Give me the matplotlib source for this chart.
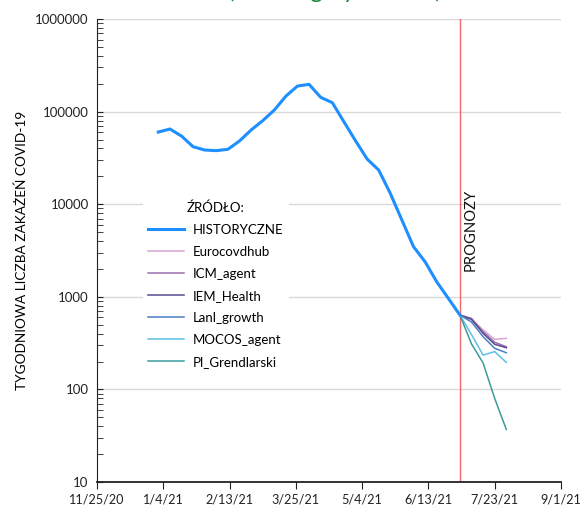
import matplotlib
matplotlib.use("Agg")
import matplotlib.pyplot as plt
import matplotlib.ticker as mticker
import matplotlib.dates as mdates
import pandas as pd
import numpy as np

plt.rcParams['font.family'] = ['Lato', 'DejaVu Sans']

# weekly case counts, Fridays from 1 Jan 2021
hist_start = '2021-01-01'
historyczne = [60200, 64900, 54500, 41800, 38500, 37900, 39200, 48200, 63300,
               79800, 104000, 147000, 189000, 197000, 142600, 125000, 77800,
               48500, 30800, 23400, 13100, 6740, 3480, 2390, 1455, 964, 636]

# forecasts for the following four weeks
prog_dates = ['2021-07-09', '2021-07-16', '2021-07-23', '2021-07-30']
eurocovdhub = [575, 438, 347, 356]
icm_agent = [585, 420, 323, 289]
iem_health = [571, 403, 307, 282]
lanl_growth = [535, 371, 278, 249]
mocos_agent = [391, 235, 256, 196]
pl_grendlarski = [310, 193, 80, 37]

models = [('Eurocovdhub', eurocovdhub, '#d7a6d0'),
          ('ICM_agent', icm_agent, '#9a6fb0'),
          ('IEM_Health', iem_health, '#5a4a8e'),
          ('Lanl_growth', lanl_growth, '#4a7fc6'),
          ('MOCOS_agent', mocos_agent, '#5ec0e6'),
          ('Pl_Grendlarski', pl_grendlarski, '#3a9c9c')]

hist_dates = pd.date_range(hist_start, periods=len(historyczne), freq='7D')
last_date = hist_dates[-1]
prog_x = [last_date] + list(pd.to_datetime(prog_dates))

fig = plt.figure(figsize=(5.8, 5.13), dpi=100)
ax = fig.add_axes([0.1672, 0.0604, 0.80, 0.9025])

ax.plot(hist_dates, historyczne, color='#1e8fff', lw=2.2, label='HISTORYCZNE', zorder=4)
for name, vals, col in models:
    ax.plot(prog_x, [historyczne[-1]] + vals, color=col, lw=1.1, label=name, zorder=3)

ax.axvline(last_date, color='#f06868', lw=1, zorder=2)
ax.text(last_date + pd.Timedelta(days=2.3), 1900, 'PROGNOZY', rotation=90,
        ha='left', va='bottom', fontsize=10.6, color='#111')

ax.set_yscale('log')
ax.set_ylim(10, 1000000)
ax.set_xlim(pd.Timestamp('2020-11-25'), pd.Timestamp('2021-09-01'))

ticks = pd.date_range('2020-11-25', periods=8, freq='40D')
ax.set_xticks(ticks)
ax.xaxis.set_major_formatter(mticker.FuncFormatter(
    lambda v, p: (lambda d: f"{d.month}/{d.day}/{d.year % 100}")(mdates.num2date(v))))
ax.yaxis.set_major_locator(mticker.LogLocator(base=10, numticks=10))
ax.yaxis.set_minor_locator(mticker.LogLocator(base=10, subs=np.arange(2, 10), numticks=10))
ax.yaxis.set_major_formatter(mticker.FuncFormatter(lambda v, p: f"{int(round(v))}"))
ax.yaxis.set_minor_formatter(mticker.NullFormatter())

ax.grid(axis='y', which='major', color='#d9d9d9', lw=1, zorder=0)
ax.set_axisbelow(True)
for s in ['top', 'right']:
    ax.spines[s].set_visible(False)
ax.spines['left'].set_color('#222')
ax.spines['bottom'].set_color('#222')
ax.spines['bottom'].set_linewidth(1.3)

ax.tick_params(axis='y', which='both', direction='in', length=4, labelsize=9.5,
               colors='#222', pad=6)
ax.tick_params(axis='x', direction='out', length=5, labelsize=9.1, colors='#222', pad=3)

ax.set_ylabel('TYGODNIOWA LICZBA ZAKAŻEŃ COVID-19', fontsize=9.8, labelpad=5)

leg = ax.legend(loc='upper left', bbox_to_anchor=(0.085, 0.632), title='ŹRÓDŁO:',
                fontsize=9.5, title_fontsize=9.5, frameon=True, framealpha=1,
                edgecolor='none', handlelength=2.7, labelspacing=0.76,
                borderpad=0.4, handletextpad=0.7)
leg.get_frame().set_facecolor('white')

fig.text(0.577, 1 + 2.5 / 513, '(skala logarytmiczna)', color='#1a8a3a', fontsize=17,
         ha='center', va='baseline')

fig.savefig('out.png', dpi=100)
